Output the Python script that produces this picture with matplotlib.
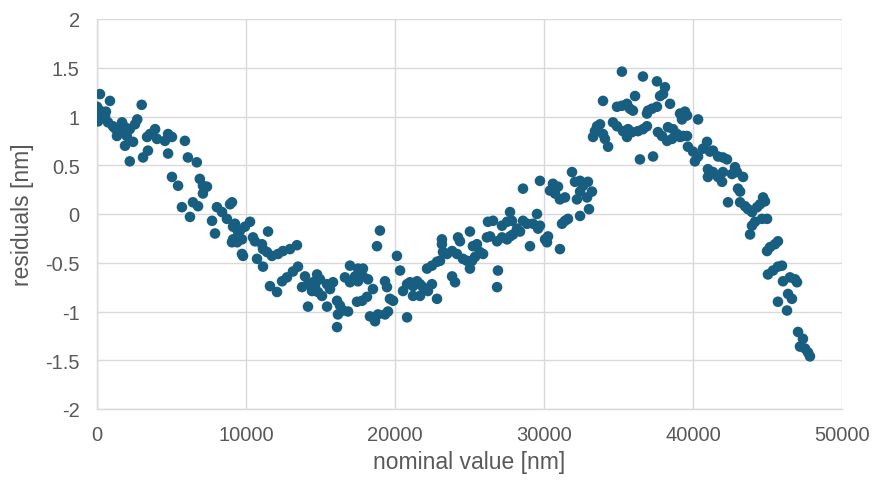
import matplotlib
matplotlib.use("Agg")
import matplotlib.pyplot as plt

# nominal value [nm]
nominal = [
    200, 870, 0, 200, 3000, 70, 540, 740, 1070, 1680, 1400, 1340, 2700, 2550, 1880, 2200,
    1880, 2420, 2200, 3900, 3560, 3360, 4030, 4770, 5030, 4560, 5900, 3090, 3420, 4770,
    6100, 6700, 5030, 5440, 6900, 7110, 7380, 7110, 5700, 6240, 6440, 6780, 7720, 8050,
    8390, 8930, 7920, 8720, 9130, 9460, 9060, 9730, 300, 600, 1200, 2000,
    9060, 9260, 10270, 9930, 9600, 9130, 9400, 9730, 10470, 10600, 11480, 9800, 10740,
    11070, 11140, 11410, 11140, 11740, 12150, 12480, 12950, 13420, 11610, 12080, 12420,
    12750, 13150, 13490, 13760, 13960, 14160, 14430, 14770, 14970, 14500, 14630, 14830,
    15100, 15440, 15640, 15840, 14160, 15440, 16110, 16310, 16170, 16510, 16850, 16110,
    16980, 16640, 16980, 17320, 17520, 17850, 17520, 17850, 18190, 17450, 17790, 18120,
    18520, 18320, 18660, 18990, 18790,
    20130, 20340, 19330, 19460, 19660, 19870, 18860, 19330, 19530, 20810, 20540, 20810,
    21010, 21210, 21480, 21680, 21210, 21680, 21880, 22210, 22480, 22820, 22150, 22480,
    22820, 23020, 23220, 23490, 23150, 23150, 23830, 24030, 23830, 24160, 24230, 24360,
    24560, 24830, 25030, 25170, 25370, 25030, 25230, 25500, 25700, 25910, 26170, 26380,
    26240, 26580, 26910, 26850, 26850, 27180, 27520, 27720, 27920, 27180, 27520, 27850,
    28590, 29730, 31880, 30600, 30940, 30400, 30740, 31070, 31410, 32080, 32420, 32950,
    33220, 32890, 32420, 32210, 32620, 27720, 28590, 28860, 28190, 28390, 29530, 29260,
    29600, 29730, 29060, 30070, 30270, 30200, 31070, 31210, 31410, 31610, 32420, 33020,
    35230, 36640, 37580, 38120, 37790, 37990, 36110, 33960, 34900, 35230, 35570, 35770,
    35970, 36980, 37250, 37580, 36910, 38460, 39130, 39460, 39600, 39260, 40340, 33560,
    33760, 33420, 33290, 33960, 34090, 34630, 34900, 35300, 35640, 35910, 35570, 34300,
    36310, 36640, 36910, 36440, 37320, 37650, 37920, 38260, 38590, 38320, 38660, 38930,
    39130, 39330, 39600, 39660, 40130, 40000, 40340, 40670, 40940, 41140, 41340, 41680,
    42010, 41000, 41340, 41680, 41950, 42350,
    42280, 41000, 42010, 42620, 42820, 42950, 43360, 43020, 43160, 43160, 43490, 43690,
    43960, 44300, 44500, 44700, 44830, 43960, 44160, 44630, 44970, 43830, 44970, 45170,
    45500, 45700, 45030, 45370, 45700, 45970, 46040, 46510, 46850, 46980, 46380, 46640,
    45700, 46310, 47050, 47380, 47180, 47520, 47720, 47850,
]

# residuals [nm]
residuals = [
    1.23, 1.16, 1.10, 1.06, 1.12, 0.95, 1.00, 0.94, 0.90, 0.94, 0.84, 0.80, 0.97, 0.92, 0.89, 0.87,
    0.70, 0.74, 0.54, 0.87, 0.82, 0.79, 0.77, 0.82, 0.79, 0.75, 0.75, 0.58, 0.65, 0.62,
    0.58, 0.53, 0.38, 0.29, 0.36, 0.29, 0.28, 0.21, 0.07, -0.03, 0.12, 0.08, -0.07, 0.07,
    0.02, 0.10, -0.20, -0.05, -0.13, -0.18, -0.29, -0.41, 1.00, 1.05, 0.88, 0.80,
    0.12, -0.10, -0.08, -0.13, -0.17, -0.26, -0.29, -0.26, -0.24, -0.28, -0.18, -0.43, -0.46,
    -0.31, -0.36, -0.39, -0.54, -0.43, -0.41, -0.38, -0.36, -0.32, -0.74, -0.80, -0.69,
    -0.65, -0.59, -0.54, -0.75, -0.64, -0.72, -0.79, -0.62, -0.67, -0.70, -0.74, -0.80,
    -0.84, -0.72, -0.77, -0.70, -0.95, -0.95, -0.89, -0.94, -1.03, -0.99, -1.00, -1.16,
    -0.53, -0.65, -0.70, -0.64, -0.56, -0.56, -0.69, -0.64, -0.67, -0.90, -0.89, -0.85,
    -0.77, -1.05, -1.10, -0.17, -0.33,
    -0.43, -0.58, -0.69, -0.75, -0.87, -0.89, -1.03, -1.03, -1.00, -1.06, -0.79, -0.72,
    -0.70, -0.74, -0.69, -0.72, -0.84, -0.84, -0.75, -0.79, -0.72, -0.87, -0.56, -0.53,
    -0.49, -0.48, -0.39, -0.41, -0.31, -0.26, -0.64, -0.70, -0.38, -0.41, -0.24, -0.28,
    -0.46, -0.48, -0.56, -0.48, -0.44, -0.18, -0.33, -0.31, -0.39, -0.41, -0.24, -0.23,
    -0.08, -0.07, -0.58, -0.75, -0.28, -0.24, -0.26, -0.23, -0.21, -0.12, -0.08, -0.07,
    0.26, 0.34, 0.43, 0.31, 0.28, 0.24, 0.21, 0.15, 0.17, 0.33, 0.34, 0.33,
    0.23, 0.17, 0.23, 0.15, 0.29, 0.02, -0.07, -0.10, -0.15, -0.18, 0.00, -0.10,
    -0.15, -0.12, -0.33, -0.26, -0.23, -0.29, -0.36, -0.10, -0.07, -0.05, -0.02, 0.05,
    1.46, 1.41, 1.36, 1.30, 1.21, 1.23, 1.21, 1.16, 1.10, 1.11, 1.13, 1.08,
    1.06, 1.06, 1.08, 1.10, 1.03, 1.13, 1.03, 1.05, 1.01, 0.97, 0.97, 0.90,
    0.92, 0.85, 0.79, 0.82, 0.77, 0.94, 0.90, 0.85, 0.87, 0.84, 0.79, 0.69,
    0.85, 0.87, 0.90, 0.56, 0.59, 0.84, 0.80, 0.75, 0.77, 0.89, 0.87, 0.82,
    0.79, 0.80, 0.80, 0.69, 0.54, 0.64, 0.59, 0.67, 0.74, 0.64, 0.65, 0.59,
    0.58, 0.38, 0.43, 0.38, 0.33, 0.12,
    0.56, 0.46, 0.43, 0.41, 0.48, 0.43, 0.38, 0.26, 0.23, 0.12, 0.08, 0.05,
    0.02, 0.07, 0.10, 0.17, 0.13, -0.12, -0.08, -0.05, -0.05, -0.21, -0.38, -0.34,
    -0.31, -0.28, -0.62, -0.58, -0.54, -0.53, -0.69, -0.65, -0.67, -0.70, -0.82, -0.87,
    -0.90, -0.99, -1.21, -1.28, -1.36, -1.38, -1.42, -1.46,
]

x_ticks = [0, 10000, 20000, 30000, 40000, 50000]
y_ticks = [-2, -1.5, -1, -0.5, 0, 0.5, 1, 1.5, 2]
y_tick_labels = ["-2", "-1.5", "-1", "-0.5", "0", "0.5", "1", "1.5", "2"]

plt.rcParams['font.family'] = ['Liberation Sans', 'DejaVu Sans']

fig = plt.figure(figsize=(8.76, 4.81), dpi=100)
ax = fig.add_axes([97/876, 1 - 410/481, 745/876, 390/481])

ax.scatter(nominal, residuals, s=58, color="#175E80", edgecolors="none", zorder=3)

ax.set_xlim(0, 50000)
ax.set_ylim(-2, 2)
ax.set_xticks(x_ticks)
ax.set_xticklabels([str(t) for t in x_ticks])
ax.set_yticks(y_ticks)
ax.set_yticklabels(y_tick_labels)

ax.grid(True, color="#d9d9d9", linewidth=1.0, zorder=0)
for side in ["top", "right"]:
    ax.spines[side].set_visible(False)
for side in ["left", "bottom"]:
    ax.spines[side].set_color("#d9d9d9")
    ax.spines[side].set_linewidth(1.0)

ax.tick_params(axis="both", length=0, labelsize=14.5, labelcolor="#595959")
ax.tick_params(axis="x", pad=11.5)
ax.tick_params(axis="y", pad=12.5)

ax.set_xlabel("nominal value [nm]", fontsize=16.5, color="#595959", labelpad=4)
ax.set_ylabel("residuals [nm]", fontsize=16.5, color="#595959", labelpad=8)

fig.savefig("out.png", dpi=100)
